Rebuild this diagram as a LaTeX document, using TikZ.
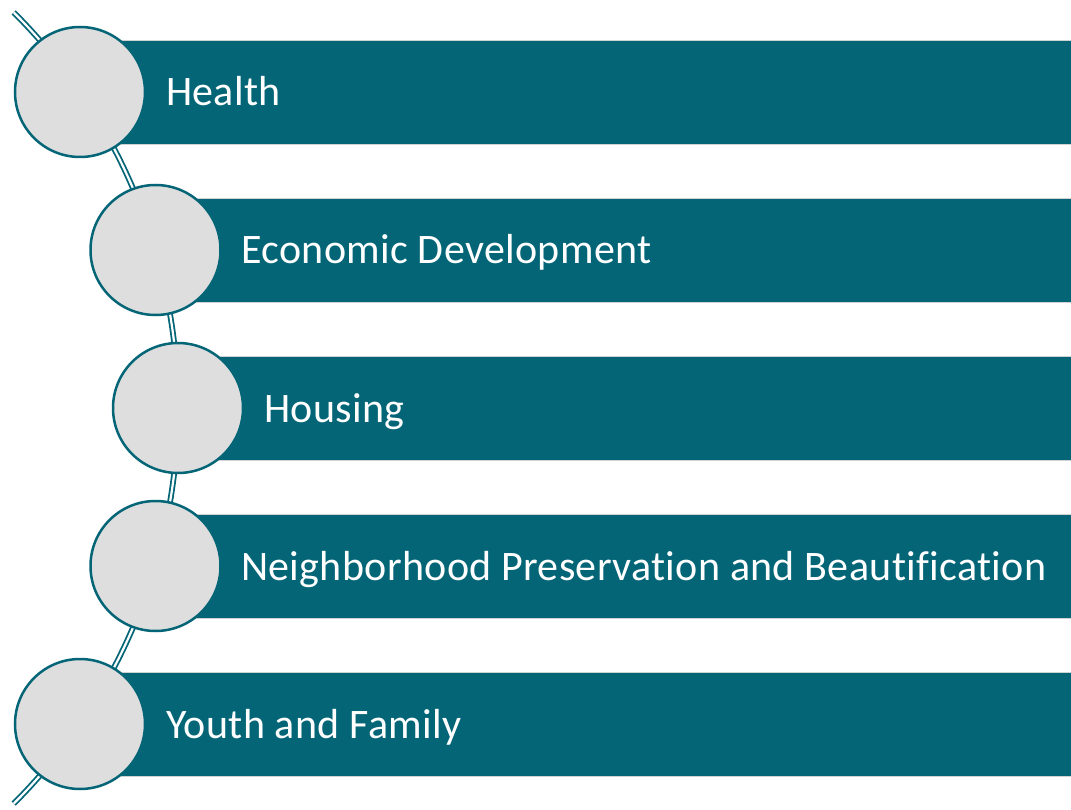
\documentclass[tikz,border=0pt]{standalone}
\usepackage{fontspec}
\setmainfont[Ligatures=NoCommon, LetterSpace=0.8]{Carlito}
\definecolor{teal1}{RGB}{4,101,119}
\definecolor{circfill}{RGB}{222,222,222}
\definecolor{barline}{RGB}{208,210,212}
\begin{document}
\begin{tikzpicture}[x=1pt,y=-1pt,
  bar/.style={fill=teal1, draw=barline, line width=1.8pt, minimum width=1000pt, minimum height=104pt, inner sep=0pt, outer sep=0pt, anchor=west},
  dot/.style={circle, fill=circfill, draw=teal1, line width=2.5pt, minimum size=130pt, inner sep=0pt},
  lbl/.style={text=white, font=\fontsize{42}{48}\selectfont, anchor=base west, inner sep=0pt},
  link/.style={draw=teal1, double=white, line width=1.8pt, double distance=2.2pt}]
\useasboundingbox (0,0) rectangle (1071,810);
\fill[white] (0,0) rectangle (1071,810);
% connector arc
\coordinate (arcc) at (-380.5,408);
\path (arcc) ++(-45.1:558.5) coordinate (top);
\draw[link] (top) arc[start angle=-45.1, end angle=45.1, radius=558.5];
% bars
\node[bar] (b1) at (120,92.5) {};
\node[bar] (b2) at (196,250.5) {};
\node[bar] (b3) at (218,408.5) {};
\node[bar] (b4) at (196,566.5) {};
\node[bar] (b5) at (120,724.5) {};
% circles
\node[dot] (c1) at (80,92) {};
\node[dot] (c2) at (155.5,250) {};
\node[dot] (c3) at (178,408) {};
\node[dot] (c4) at (155.5,566) {};
\node[dot] (c5) at (80,724) {};
% labels
\node[lbl] (t1) at (166,106) {Health};
\node[lbl] (t2) at (241,264) {Economic Development};
\node[lbl] (t3) at (264,422) {Housing};
\node[lbl] (t4) at (241,580) {Neighborhood Preservation and Beautification};
\node[lbl] (t5) at (166,738) {Youth and Family};
\end{tikzpicture}
\end{document}
